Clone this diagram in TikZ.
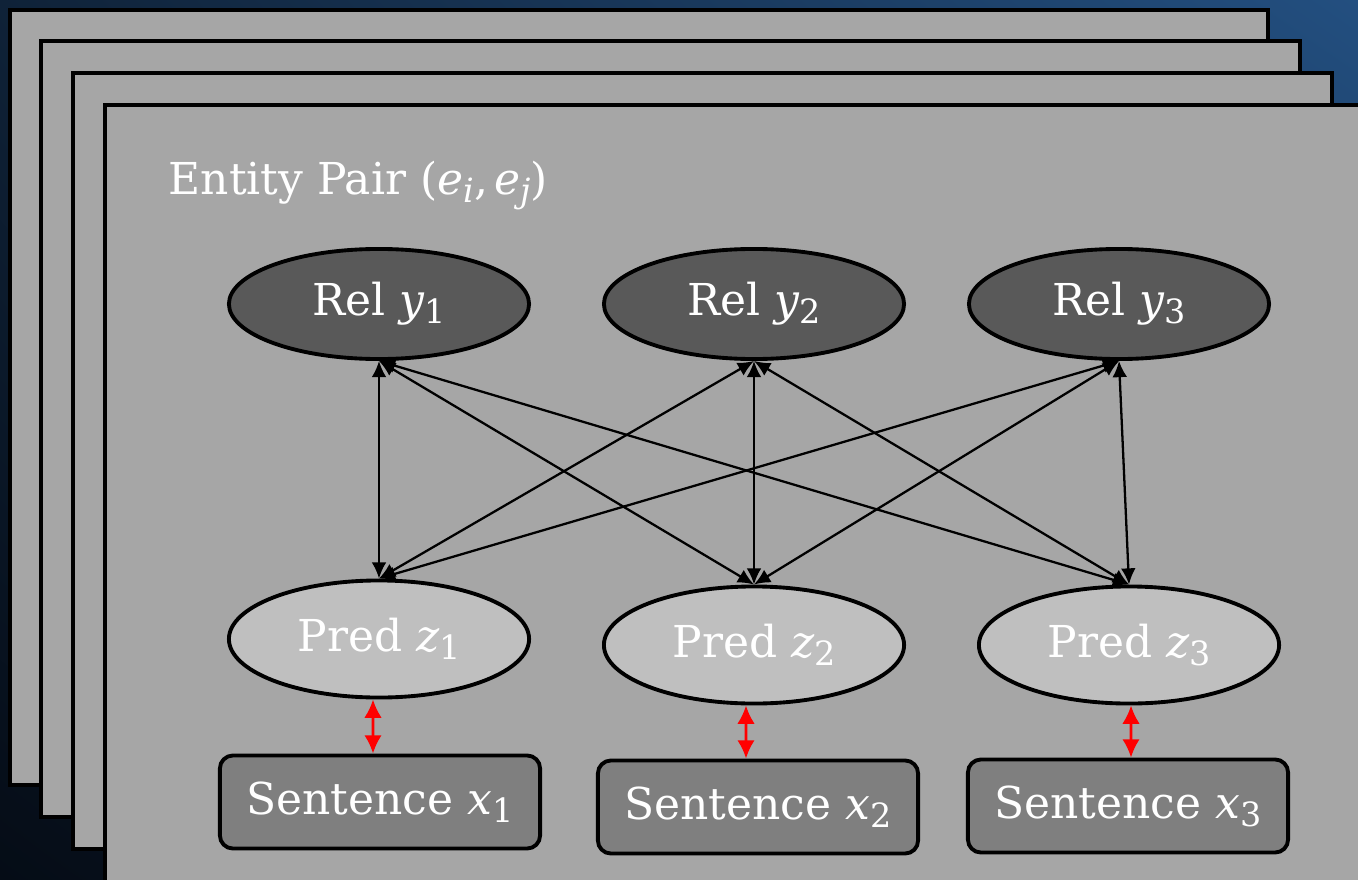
\documentclass[tikz,border=0pt]{standalone}
\usepackage{fontspec}
\setmainfont{DejaVu Serif}
\usetikzlibrary{arrows.meta,shapes.geometric,shadings}
\definecolor{sheet}{HTML}{A6A6A6}
\definecolor{relfill}{HTML}{595959}
\definecolor{predfill}{HTML}{BFBFBF}
\definecolor{sentfill}{HTML}{7F7F7F}
\definecolor{bgA}{HTML}{0F2238}
\definecolor{bgB}{HTML}{234F80}
\definecolor{bgC}{HTML}{050C16}
\definecolor{bgD}{HTML}{10253D}
\newcommand{\myvar}[2]{{\itshape #1}\raisebox{-0.35ex}{\fontsize{9.5}{10}\selectfont #2}}
\tikzset{
  sheetbox/.style={draw=black, fill=sheet, line width=1.1pt},
  relnode/.style={ellipse, draw=black, fill=relfill, line width=1.1pt, minimum width=3cm, minimum height=1.1cm, inner sep=0pt, text=white, font=\fontsize{12.5}{14}\selectfont},
  prednode/.style={ellipse, draw=black, fill=predfill, line width=1.1pt, minimum width=3cm, minimum height=1.17cm, inner sep=0pt, text=white, font=\fontsize{12.5}{14}\selectfont},
  sentnode/.style={rectangle, rounded corners=0.13cm, draw=black, fill=sentfill, line width=1.1pt, minimum width=3.2cm, minimum height=0.93cm, inner sep=0pt, text=white, font=\fontsize{12.5}{14}\selectfont},
  link/.style={line width=0.65pt, {Latex[length=4.6pt,width=4.2pt]}-{Latex[length=4.6pt,width=4.2pt]}},
  redlink/.style={line width=0.8pt, red, {Latex[length=5.2pt,width=5pt]}-{Latex[length=5.2pt,width=5pt]}}
}
\begin{document}
\begin{tikzpicture}[x=0.01cm,y=-0.01cm]
\useasboundingbox (0,0) rectangle (1358,879);
\clip (0,0) rectangle (1358,879);
\shade[upper left=bgA, upper right=bgB, lower left=bgC, lower right=bgD] (0,0) rectangle (1358,879);
\draw[sheetbox] (10,10) rectangle (1268,785);
\draw[sheetbox] (41,41) rectangle (1300,817);
\draw[sheetbox] (73,73) rectangle (1332,849);
\draw[sheetbox] (105,105) rectangle (1370,890);
\node[anchor=west, text=white, font=\fontsize{12.5}{14}\selectfont, inner sep=0pt] (title) at (168,186) {Entity Pair (\myvar{e}{\itshape i},\kern0.15em\myvar{e}{\itshape j})};
\node[relnode] (y1) at (379,304) {Rel \myvar{y}{1}};
\node[relnode] (y2) at (754,304) {Rel \myvar{y}{2}};
\node[relnode] (y3) at (1119,304) {Rel \myvar{y}{3}};
\node[prednode] (z1) at (379,639) {Pred \myvar{z}{1}};
\node[prednode] (z2) at (754,645) {Pred \myvar{z}{2}};
\node[prednode] (z3) at (1129,645) {Pred \myvar{z}{3}};
\node[sentnode] (x1) at (380,802) {Sentence \myvar{x}{1}};
\node[sentnode] (x2) at (758,807) {Sentence \myvar{x}{2}};
\node[sentnode] (x3) at (1128,806) {Sentence \myvar{x}{3}};
\foreach \r in {y1,y2,y3}{
  \foreach \p in {z1,z2,z3}{
    \draw[link] (\r.south) -- (\p.north);
  }
}
\draw[redlink] ([xshift=-0.06cm]z1.south) -- ([xshift=-0.07cm]x1.north);
\draw[redlink] ([xshift=-0.08cm]z2.south) -- ([xshift=-0.12cm]x2.north);
\draw[redlink] ([xshift=0.02cm]z3.south) -- ([xshift=0.03cm]x3.north);
\end{tikzpicture}
\end{document}
